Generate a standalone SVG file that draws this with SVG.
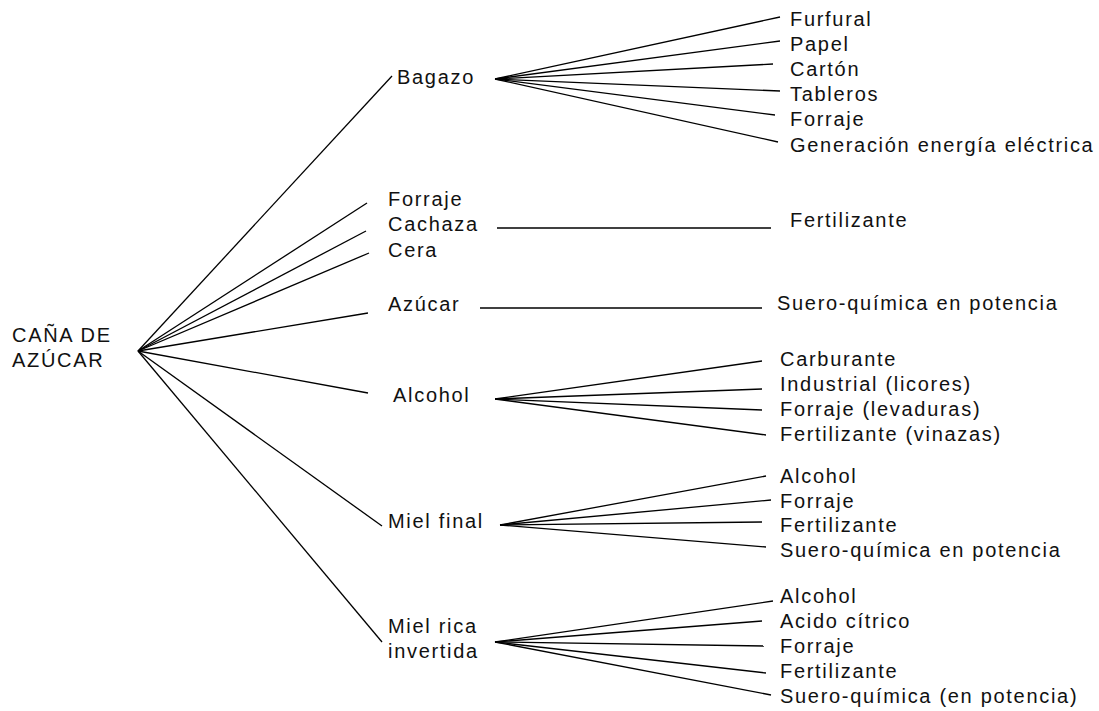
<svg xmlns="http://www.w3.org/2000/svg" width="1099" height="711" viewBox="0 0 1099 711">
<style>
text{font-family:"Liberation Sans",Arial,sans-serif;font-size:20px;letter-spacing:1.7px;fill:#111}
.c line{stroke:#000;stroke-width:1.3;fill:none}
</style>
<rect width="1099" height="711" fill="#fff"/>
<g class="c" id="connectors">
<line x1="138" y1="351" x2="392" y2="76"/>
<line x1="138" y1="351" x2="367" y2="203"/>
<line x1="138" y1="351" x2="366" y2="231"/>
<line x1="138" y1="351" x2="369" y2="253"/>
<line x1="138" y1="351" x2="368" y2="313"/>
<line x1="138" y1="351" x2="368" y2="393"/>
<line x1="138" y1="351" x2="382" y2="526"/>
<line x1="138" y1="351" x2="382" y2="642"/>
<line x1="495" y1="79" x2="780" y2="17"/>
<line x1="495" y1="79" x2="780" y2="41"/>
<line x1="495" y1="79" x2="773" y2="64"/>
<line x1="495" y1="79" x2="780" y2="91"/>
<line x1="495" y1="79" x2="775" y2="115"/>
<line x1="495" y1="79" x2="778" y2="142"/>
<line x1="497" y1="228" x2="771" y2="228"/>
<line x1="480" y1="308" x2="762" y2="308"/>
<line x1="495" y1="399" x2="762" y2="361"/>
<line x1="495" y1="399" x2="762" y2="389"/>
<line x1="495" y1="399" x2="762" y2="410"/>
<line x1="495" y1="399" x2="766" y2="435"/>
<line x1="500" y1="525" x2="766" y2="476"/>
<line x1="500" y1="525" x2="771" y2="500"/>
<line x1="500" y1="525" x2="762" y2="522"/>
<line x1="500" y1="525" x2="766" y2="547"/>
<line x1="495" y1="642" x2="773" y2="601"/>
<line x1="495" y1="642" x2="762" y2="621"/>
<line x1="495" y1="642" x2="764" y2="646"/>
<line x1="495" y1="642" x2="766" y2="673"/>
<line x1="495" y1="642" x2="771" y2="695"/>
</g>
<g id="root"><text x="12" y="342">CAÑA DE</text><text x="12" y="367">AZÚCAR</text></g>
<g id="bagazo"><text x="397" y="84">Bagazo</text></g>
<g id="forraje"><text x="388" y="206">Forraje</text></g>
<g id="cachaza"><text x="388" y="231">Cachaza</text></g>
<g id="cera"><text x="388" y="257">Cera</text></g>
<g id="azucar"><text x="388" y="311">Azúcar</text></g>
<g id="alcohol"><text x="393" y="402">Alcohol</text></g>
<g id="mielfinal"><text x="388" y="528">Miel final</text></g>
<g id="mielrica"><text x="388" y="633">Miel rica</text><text x="388" y="658">invertida</text></g>
<g id="bagazo-products">
<text x="790" y="26">Furfural</text>
<text x="790" y="51">Papel</text>
<text x="790" y="76">Cartón</text>
<text x="790" y="101">Tableros</text>
<text x="790" y="126">Forraje</text>
<text x="790" y="152">Generación energía eléctrica</text>
</g>
<g id="cachaza-products"><text x="790" y="227">Fertilizante</text></g>
<g id="azucar-products"><text x="777" y="310">Suero-química en potencia</text></g>
<g id="alcohol-products">
<text x="780" y="366">Carburante</text>
<text x="780" y="391">Industrial (licores)</text>
<text x="780" y="416">Forraje (levaduras)</text>
<text x="780" y="441">Fertilizante (vinazas)</text>
</g>
<g id="mielfinal-products">
<text x="780" y="483">Alcohol</text>
<text x="780" y="508">Forraje</text>
<text x="780" y="532">Fertilizante</text>
<text x="780" y="557">Suero-química en potencia</text>
</g>
<g id="mielrica-products">
<text x="780" y="603">Alcohol</text>
<text x="780" y="628">Acido cítrico</text>
<text x="780" y="653">Forraje</text>
<text x="780" y="678">Fertilizante</text>
<text x="780" y="703">Suero-química (en potencia)</text>
</g>
</svg>
